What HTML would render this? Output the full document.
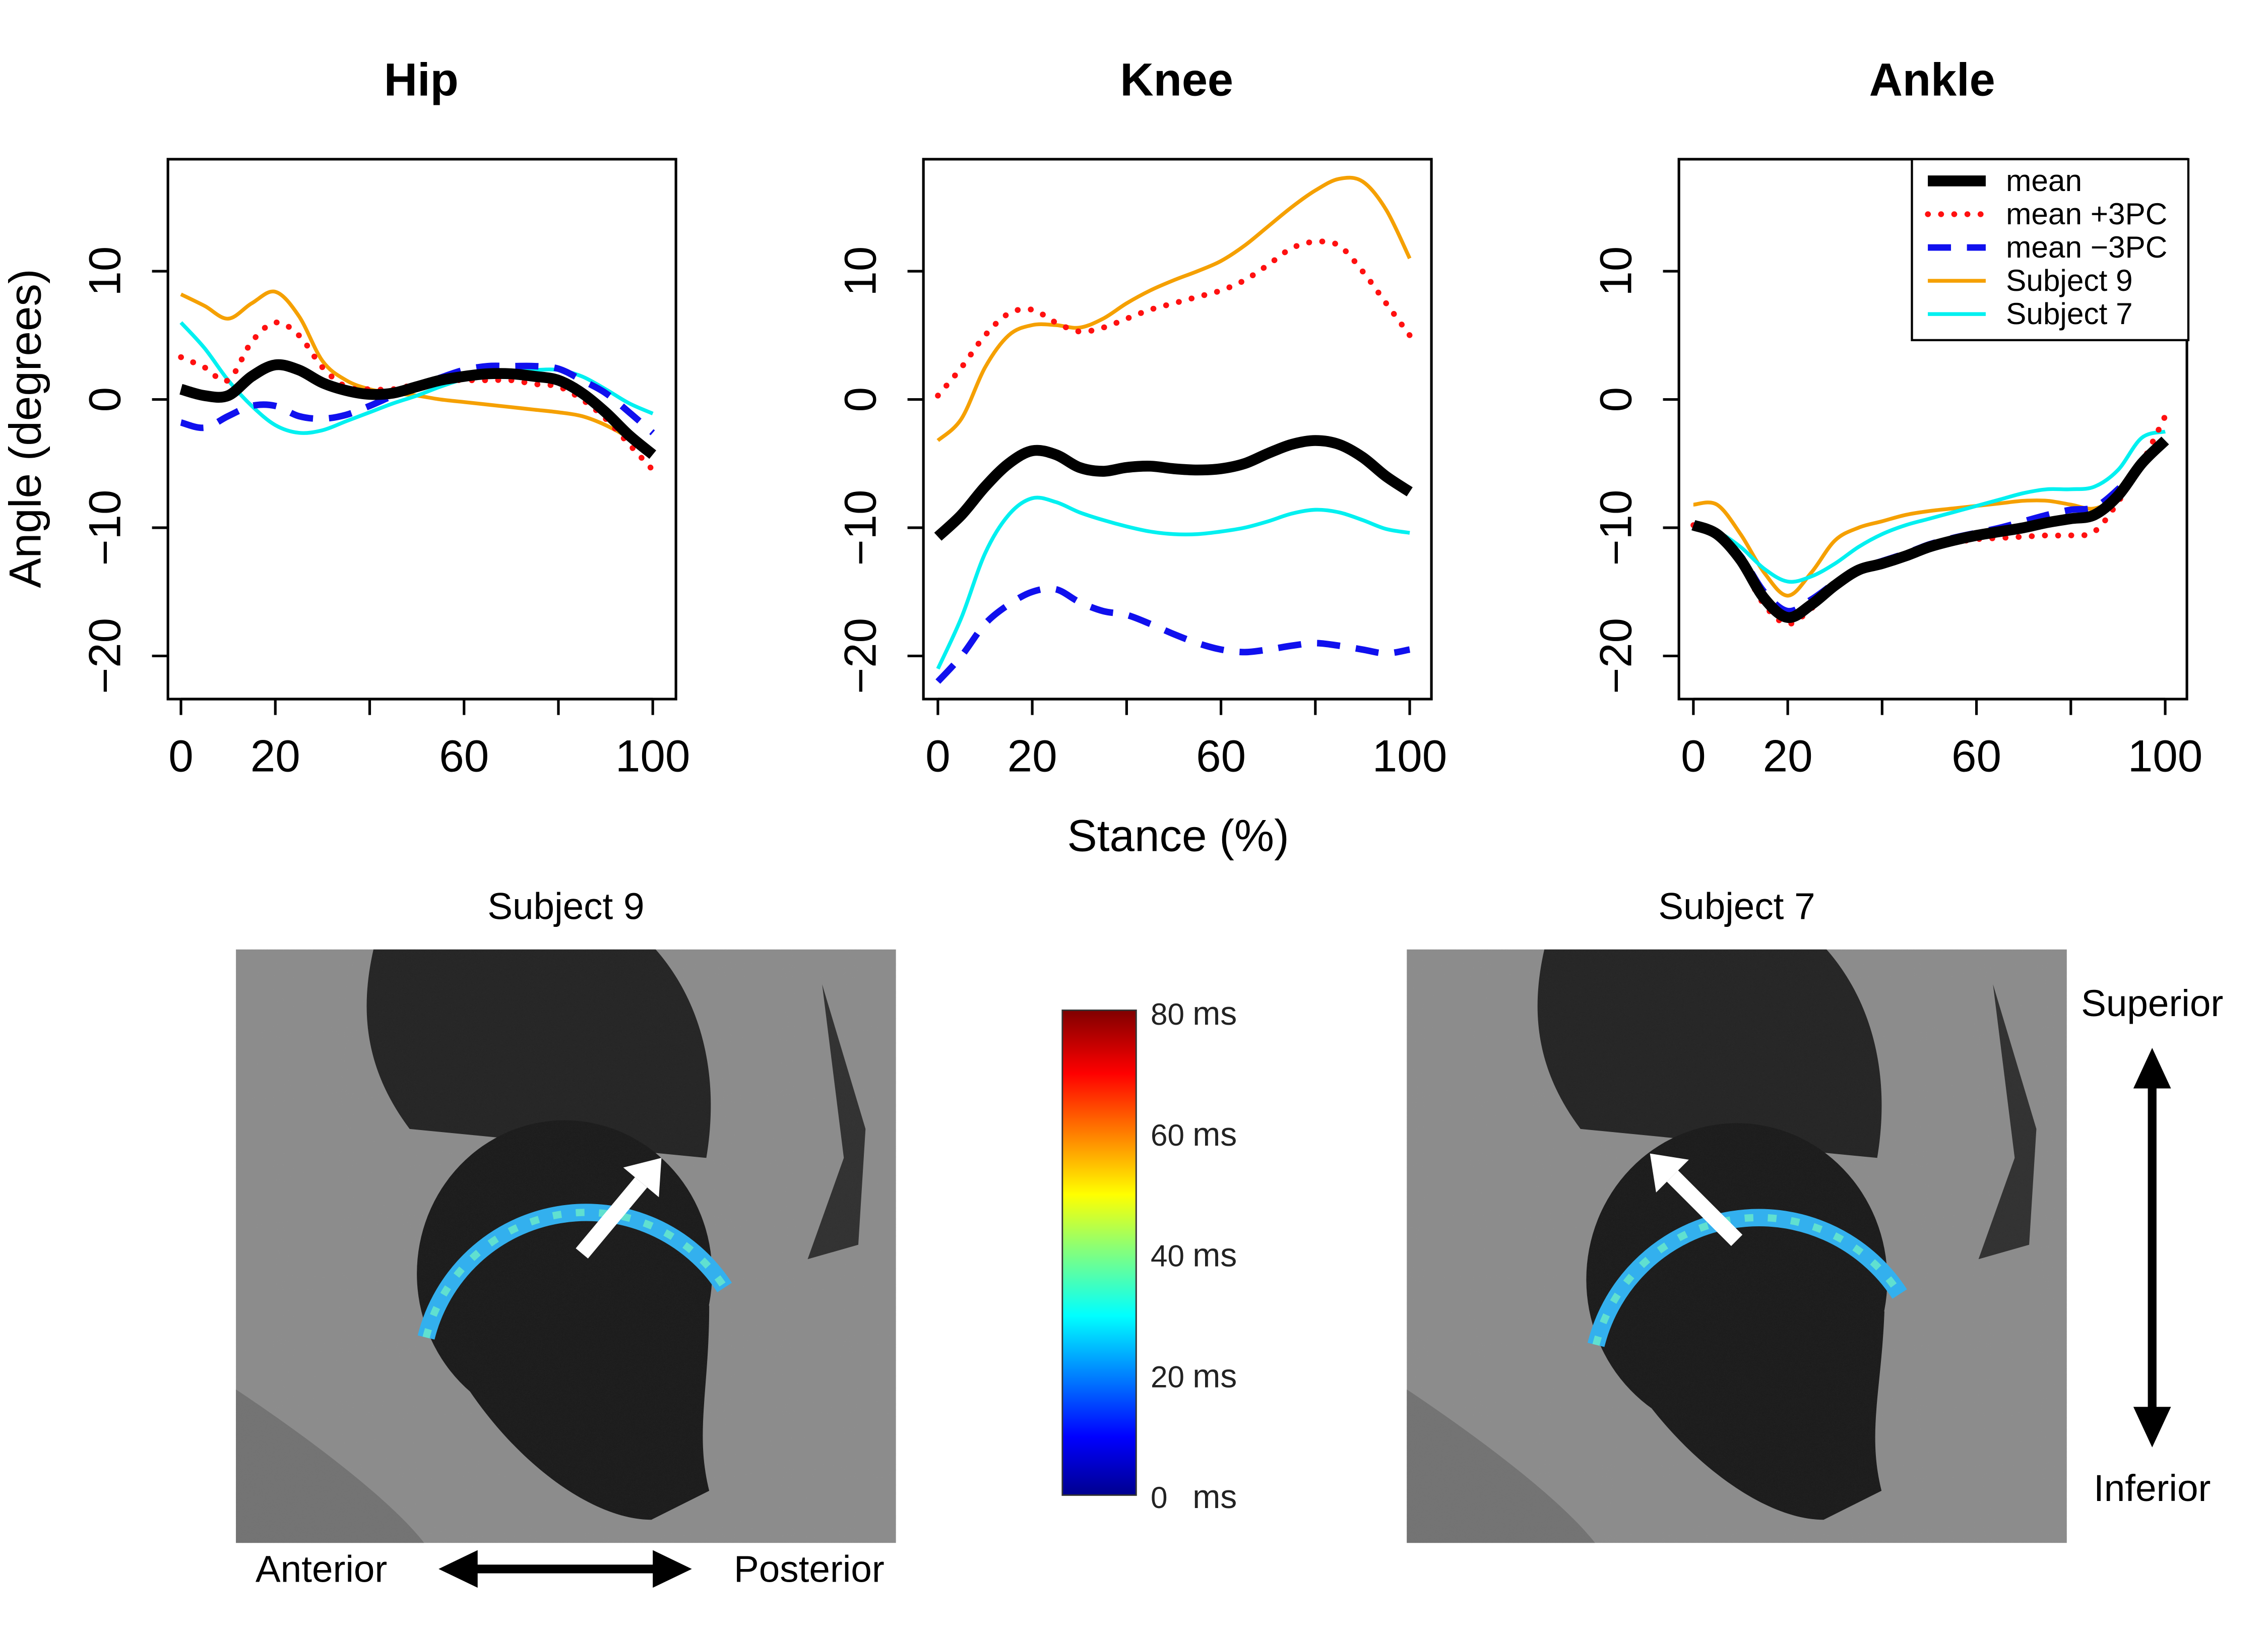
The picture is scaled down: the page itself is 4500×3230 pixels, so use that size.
<!DOCTYPE html>
<html><head><meta charset="utf-8"><style>
html,body{margin:0;padding:0;background:#fff}
svg{display:block;font-family:"Liberation Sans",Arial,sans-serif}
</style></head><body>
<svg id="fig" xmlns="http://www.w3.org/2000/svg" width="4500" height="3230" viewBox="0 0 1567 1124.8">
<defs>
<filter id="noise" x="0" y="0" width="100%" height="100%">
<feTurbulence type="fractalNoise" baseFrequency="0.9" numOctaves="2" seed="3" result="t"/>
<feColorMatrix in="t" type="matrix" values="0 0 0 0 0.5  0 0 0 0 0.5  0 0 0 0 0.5  0.9 0 0 0 0" result="n"/>
<feComposite in="n" in2="SourceGraphic" operator="in" result="m"/>
<feBlend in="SourceGraphic" in2="m" mode="overlay"/>
</filter>
<linearGradient id="jet" x1="0" y1="1" x2="0" y2="0">
<stop offset="0" stop-color="#00008f"/><stop offset="0.12" stop-color="#0000ff"/><stop offset="0.37" stop-color="#00ffff"/><stop offset="0.5" stop-color="#80ff80"/><stop offset="0.62" stop-color="#ffff00"/><stop offset="0.87" stop-color="#ff0000"/><stop offset="1" stop-color="#800000"/>
</linearGradient>
</defs>
<g id="charts"></g>
<g id="mri"></g>
</svg>
<script>
const stance = [0,5,10,15,20,25,30,35,40,45,50,55,60,65,70,75,80,85,90,95,100];
const xTicks = [0,20,40,60,80,100];
const xTickLabels = ['0','20','','60','','100'];
const yTicks = [10,0,-10,-20];
const yTickLabels = ['10','0','\u221210','\u221220'];
const seriesNames = ['Subject 9','Subject 7','mean +3PC','mean \u22123PC','mean'];
const hipMean = [0.8,0.3,0.3,1.8,2.7,2.3,1.3,0.7,0.4,0.5,1.0,1.5,1.8,2.0,2.0,1.8,1.5,0.5,-1.0,-2.8,-4.3];
const hipPlus = [3.3,2.5,1.5,4.5,6.0,5.0,2.5,1.0,0.8,0.8,1.2,1.5,1.5,1.5,1.5,1.2,1.0,0,-1.5,-3.5,-5.5];
const hipMinus = [-1.8,-2.2,-1.3,-0.5,-0.5,-1.3,-1.5,-1.2,-0.5,0.3,1.0,1.7,2.3,2.6,2.6,2.6,2.4,1.5,0.5,-1.0,-2.6];
const hipS9 = [8.2,7.3,6.3,7.5,8.4,6.5,3,1.5,0.8,0.5,0.3,0,-0.2,-0.4,-0.6,-0.8,-1.0,-1.3,-2.0,-3.0,-4.2];
const hipS7 = [6,4,1.5,-0.5,-2.0,-2.6,-2.4,-1.7,-1.0,-0.3,0.3,1.0,1.6,2.0,2.2,2.3,2.3,1.8,0.8,-0.3,-1.1];
const kneeMean = [-10.7,-9,-6.8,-5,-4,-4.3,-5.3,-5.6,-5.3,-5.2,-5.4,-5.5,-5.4,-5.0,-4.2,-3.5,-3.2,-3.5,-4.5,-6,-7.2];
const kneePlus = [0.3,2.5,5,6.7,7.0,6.0,5.3,5.6,6.3,7.0,7.5,8.0,8.5,9.3,10.5,11.8,12.3,12.0,10.0,7.5,5.0];
const kneeMinus = [-22,-20,-17.5,-16,-15,-14.8,-15.8,-16.5,-16.8,-17.5,-18.3,-19,-19.5,-19.7,-19.5,-19.2,-19,-19.2,-19.5,-19.8,-19.5];
const kneeS9 = [-3.2,-1.5,2.5,5,5.8,5.8,5.6,6.3,7.5,8.5,9.3,10.0,10.8,12.0,13.5,15,16.3,17.2,17.0,14.8,11.0];
const kneeS7 = [-21,-17,-12,-9,-7.7,-8,-8.8,-9.4,-9.9,-10.3,-10.5,-10.5,-10.3,-10.0,-9.5,-8.9,-8.6,-8.8,-9.4,-10.1,-10.4];
const ankleMean = [-9.8,-10.5,-12.5,-15.5,-17,-16,-14.5,-13.3,-12.8,-12.2,-11.5,-11.0,-10.6,-10.3,-10.0,-9.6,-9.3,-9.0,-7.5,-5,-3.2];
const anklePlus = [-9.8,-10.6,-12.8,-16,-17.5,-16.3,-14.6,-13.4,-12.9,-12.3,-11.7,-11.2,-10.9,-10.8,-10.7,-10.6,-10.6,-10.3,-8.0,-5,-1.3];
const ankleMinus = [-9.8,-10.4,-12.2,-15,-16.5,-15.6,-14.3,-13.2,-12.6,-12.0,-11.3,-10.8,-10.4,-10.0,-9.5,-9.0,-8.6,-8.4,-7.0,-5,-3.3];
const ankleS9 = [-8.2,-8.2,-10.5,-13.5,-15.3,-13.5,-11,-10,-9.5,-9.0,-8.7,-8.5,-8.3,-8.1,-7.9,-7.9,-8.2,-8.5,-7.5,-5,-3.5];
const ankleS7 = [-9.8,-10.3,-11.5,-13.2,-14.2,-13.8,-12.8,-11.5,-10.5,-9.8,-9.3,-8.8,-8.3,-7.8,-7.3,-7.0,-7.0,-6.8,-5.5,-3.0,-2.5];
const cbTicks = ['80','60','40','20','0'];

const NS='http://www.w3.org/2000/svg';
function mk(tag, attrs, parent){const e=document.createElementNS(NS,tag);for(const k in attrs)e.setAttribute(k,attrs[k]);parent.appendChild(e);return e;}
function txt(s, attrs, parent){const e=mk('text',attrs,parent);e.textContent=s;return e;}
function smooth(pts){let d='M'+pts[0][0]+','+pts[0][1];for(let i=0;i<pts.length-1;i++){const p0=pts[i-1]||pts[i],p1=pts[i],p2=pts[i+1],p3=pts[i+2]||p2;d+=' C'+(p1[0]+(p2[0]-p0[0])/6)+','+(p1[1]+(p2[1]-p0[1])/6)+' '+(p2[0]-(p3[0]-p1[0])/6)+','+(p2[1]-(p3[1]-p1[1])/6)+' '+p2[0]+','+p2[1];}return d;}

const charts=document.getElementById('charts');
const panels=[
 {name:'hip',title:'Hip',box:116,x0:125,data:[hipS9,hipS7,hipPlus,hipMinus,hipMean]},
 {name:'knee',title:'Knee',box:638,x0:648,data:[kneeS9,kneeS7,kneePlus,kneeMinus,kneeMean]},
 {name:'ankle',title:'Ankle',box:1160,x0:1170,data:[ankleS9,ankleS7,anklePlus,ankleMinus,ankleMean]}];
const styles=[
 {stroke:'#f5a000','stroke-width':2.6},
 {stroke:'#00f0f0','stroke-width':2.6},
 {stroke:'#ff1010','stroke-width':4,'stroke-dasharray':'0.1 9','stroke-linecap':'round'},
 {stroke:'#1010ee','stroke-width':4.5,'stroke-dasharray':'16 11'},
 {stroke:'#000','stroke-width':7.5}];
const yS=v=>276-v*8.86;
panels.forEach(p=>{
 const g=mk('g',{},charts);
 
 
 const xS=v=>p.x0+v*3.26;
 const t=txt(p.title,{x:p.box+175,y:66,'text-anchor':'middle','font-size':32,'font-weight':'bold'},g);
 
 
 const fr=mk('rect',{x:p.box,y:110,width:351,height:373,fill:'none',stroke:'#000','stroke-width':1.8},g);
 
 
 mk('line',{x1:xS(xTicks[0]),x2:xS(xTicks[xTicks.length-1]),y1:483,y2:483,stroke:'#000','stroke-width':1.8},g);
 xTicks.forEach((v,i)=>{
  mk('line',{x1:xS(v),x2:xS(v),y1:483,y2:494,stroke:'#000','stroke-width':1.8},g);
  if(xTickLabels[i]){const l=txt(xTickLabels[i],{x:xS(v),y:533,'text-anchor':'middle','font-size':31},g);
   
   }
 });
 yTicks.forEach((v,i)=>{
  mk('line',{x1:p.box,x2:p.box-11,y1:yS(v),y2:yS(v),stroke:'#000','stroke-width':1.8},g);
  const l=txt(yTickLabels[i],{x:0,y:0,'text-anchor':'middle','font-size':31,transform:'translate('+(p.box-33)+','+yS(v)+') rotate(-90)'},g);
  
  
 });
 p.data.forEach((arr,si)=>{
  const pts=arr.map((v,i)=>[xS(stance[i]),yS(v)]);
  const a=Object.assign({d:smooth(pts),fill:'none'},styles[si]);
  const path=mk('path',a,g);
  
  
 });
});
const yl=txt('Angle (degrees)',{x:0,y:0,'text-anchor':'middle','font-size':31,transform:'translate(28,296) rotate(-90)'},charts);


const xl=txt('Stance (%)',{x:814,y:588,'text-anchor':'middle','font-size':31},charts);


// legend
const lg=mk('g',{},charts);


mk('rect',{x:1321,y:110,width:191,height:125,fill:'#fff',stroke:'#000','stroke-width':1.5},lg);
const legOrder=[4,2,3,0,1];
legOrder.forEach((si,i)=>{
 const y=125+i*23;
 const e=mk('g',{},lg);
 
 
 mk('line',Object.assign({x1:1332,x2:1372,y1:y,y2:y},styles[si]),e);
 txt(seriesNames[si],{x:1386,y:y+7,'font-size':21},e);
});

// MRI panels
const mri=document.getElementById('mri');
function mriPanel(name,x,label,c,arc,arrow){
 const g=mk('g',{},mri);
 
 
 const inner=mk('g',{filter:'url(#noise)'},g);
 mk('rect',{x:x,y:656,width:456,height:410,fill:'#8c8c8c'},inner);
 mk('path',{d:'M'+(x+95)+',656 L'+(x+290)+',656 C'+(x+320)+',690 '+(x+335)+',740 '+(x+325)+',800 L'+(x+120)+',780 C'+(x+90)+',740 '+(x+85)+',700 '+(x+95)+',656 Z',fill:'#262626'},inner);
 mk('ellipse',{cx:c[0],cy:c[1]+18,rx:arc-12,ry:arc-8,fill:'#1e1e1e'},inner);
 mk('path',{d:'M'+(c[0]-arc+22)+','+(c[1]+50)+' C'+(c[0]-60)+',990 '+(c[0]+10)+',1050 '+(c[0]+60)+',1050 L'+(c[0]+100)+',1030 C'+(c[0]+90)+',990 '+(c[0]+100)+',960 '+(c[0]+arc-14)+','+(c[1]+40)+' Z',fill:'#1e1e1e'},inner);
 mk('path',{d:'M'+(x+405)+',680 L'+(x+420)+',800 L'+(x+395)+',870 L'+(x+430)+',860 L'+(x+435)+',780 Z',fill:'#333'},inner);
 mk('path',{d:'M'+(x)+',960 C'+(x+60)+',1000 '+(x+110)+',1040 '+(x+130)+',1066 L'+x+',1066 Z',fill:'#737373'},inner);
 const a0=213*Math.PI/180,a1=-14*Math.PI/180;
 const p0=[c[0]+arc*Math.cos(a0),c[1]-arc*Math.sin(a0)],p1=[c[0]+arc*Math.cos(a1),c[1]-arc*Math.sin(a1)];
 const ar=mk('path',{d:'M'+p0[0]+','+p0[1]+' A'+arc+','+arc+' 0 0 1 '+p1[0]+','+p1[1],fill:'none',stroke:'#33b0ee','stroke-width':12},g);
 
 
 mk('path',{d:'M'+p0[0]+','+p0[1]+' A'+arc+','+arc+' 0 0 1 '+p1[0]+','+p1[1],fill:'none',stroke:'#60e0d0','stroke-width':5,'stroke-dasharray':'6 10'},g);
 const ag=mk('g',{},g);
 
 
 const [x1,y1,x2,y2]=arrow;const ang=Math.atan2(y2-y1,x2-x1);
 const hx=x2-22*Math.cos(ang),hy=y2-22*Math.sin(ang);
 mk('line',{x1:x1,y1:y1,x2:hx,y2:hy,stroke:'#fff','stroke-width':11},ag);
 const px=Math.sin(ang)*16,py=-Math.cos(ang)*16;
 mk('polygon',{points:x2+','+y2+' '+(hx+px)+','+(hy+py)+' '+(hx-px)+','+(hy-py),fill:'#fff'},ag);
 const t=txt(label,{x:x+228,y:635,'text-anchor':'middle','font-size':26},g);
 
 
}
mriPanel('subject-9-mri',163,'Subject 9',[390,862],114,[402,866,457,800]);
mriPanel('subject-7-mri',972,'Subject 7',[1200,866],116,[1200,857,1140,797]);

// colorbar
const cb=mk('g',{},mri);


mk('rect',{x:734,y:698,width:51,height:335,fill:'url(#jet)',stroke:'#333','stroke-width':1},cb);
cbTicks.forEach((v,i)=>{
 const y=700+i*83.5;
 const l=txt(v,{x:795,y:y+8,'font-size':21,fill:'#222'},cb);
 
 
 txt('ms',{x:824,y:y+8,'font-size':23,fill:'#222'},cb);
});

// direction arrows
const da=mk('g',{},mri);


mk('line',{x1:322,x2:460,y1:1084,y2:1084,stroke:'#000','stroke-width':6},da);
mk('polygon',{points:'303,1084 330,1071 330,1097',fill:'#000'},da);
mk('polygon',{points:'478,1084 451,1071 451,1097',fill:'#000'},da);
txt('Anterior',{x:222,y:1093,'text-anchor':'middle','font-size':26},da);
txt('Posterior',{x:559,y:1093,'text-anchor':'middle','font-size':26},da);
const db=mk('g',{},mri);


mk('line',{x1:1487,x2:1487,y1:745,y2:980,stroke:'#000','stroke-width':6},db);
mk('polygon',{points:'1487,724 1474,752 1500,752',fill:'#000'},db);
mk('polygon',{points:'1487,1000 1474,972 1500,972',fill:'#000'},db);
txt('Superior',{x:1487,y:702,'text-anchor':'middle','font-size':26},db);
txt('Inferior',{x:1487,y:1037,'text-anchor':'middle','font-size':26},db);
</script>
</body></html>
